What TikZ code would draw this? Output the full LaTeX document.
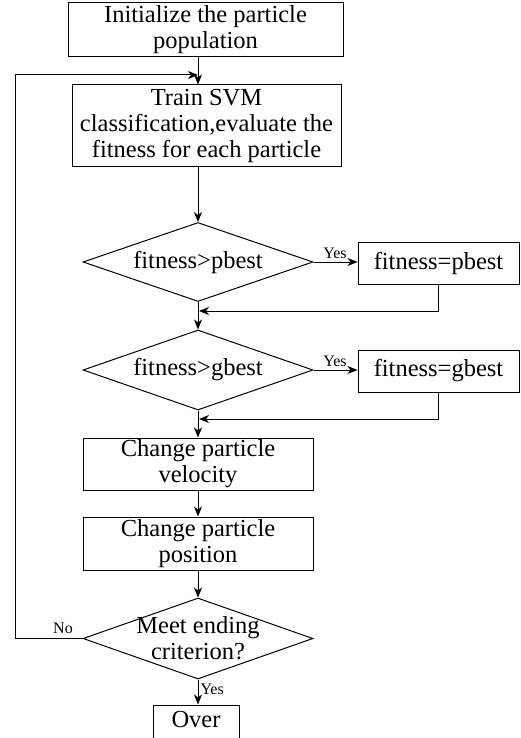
\documentclass[tikz,border=0pt]{standalone}
\usepackage{fontspec}
\setmainfont{Liberation Serif}
\usetikzlibrary{shapes.geometric,arrows.meta}
\begin{document}
\begin{tikzpicture}[x=1pt,y=-1pt,
  line width=1pt,
  box/.style={draw,rectangle,inner sep=0pt,align=center,font=\fontsize{24.5}{26}\selectfont},
  dia/.style={draw,diamond,inner sep=0pt,aspect=2.9},
  txt/.style={align=center,inner sep=0pt,font=\fontsize{24.5}{26}\selectfont},
  lbl/.style={inner sep=0pt,font=\fontsize{16}{18}\selectfont},
  arr/.style={-{Stealth[length=10pt,width=8pt,inset=3pt]}}]
\useasboundingbox (0,0) rectangle (520,738);
\clip (0,0) rectangle (520,738);
% boxes
\node[box,minimum width=275pt,minimum height=54pt] (init) at (205.5,30) {Initialize the particle\\population};
\node[box,minimum width=269pt,minimum height=82pt] (train) at (206.5,126) {Train SVM\\classification,evaluate the\\fitness for each particle};
\node[dia,minimum width=230pt,minimum height=79pt] (d1) at (198,262) {};
\node[txt] at (d1.center) {fitness>pbest};
\node[box,minimum width=161pt,minimum height=42pt] (pb) at (438.5,263) {fitness=pbest};
\node[dia,minimum width=230pt,minimum height=80pt] (d2) at (198,370) {};
\node[txt] at (d2.center) {fitness>gbest};
\node[box,minimum width=161pt,minimum height=42pt] (gb) at (438.5,371) {fitness=gbest};
\node[box,minimum width=230pt,minimum height=52pt] (vel) at (198,464) {Change particle\\velocity};
\node[box,minimum width=230pt,minimum height=53pt] (pos) at (198,543.5) {Change particle\\position};
\node[dia,minimum width=230pt,minimum height=81pt] (d3) at (198,638.5) {};
\node[txt] at (d3.center) {Meet ending\\criterion?};
\node[box,minimum width=86pt,minimum height=44pt,text height=15pt,text depth=15pt] (over) at (196,727) {Over};
% junctions
\coordinate (j1) at (198,75);
\coordinate (lp) at (15,75);
\coordinate (j2) at (199,311);
\coordinate (j3) at (199,419);
% connectors
\draw[arr] (init.south -| d1.north) -- (train.north -| d1.north);
\draw[arr] (train.south -| d1.north) -- (d1.north);
\draw[arr] (d1.east) -- (pb.west |- d1.east);
\draw[arr] (pb.south) |- (j2);
\draw[arr] (d1.south) -- (d2.north);
\draw[arr] (d2.east) -- (gb.west |- d2.east);
\draw[arr] (gb.south) |- (j3);
\draw[arr] (d2.south) -- (vel.north);
\draw[arr] (vel.south) -- (pos.north);
\draw[arr] (pos.south) -- (d3.north);
\draw[arr] (d3.south) -- (over.north -| d3.south);
\draw[arr] (d3.west) -| (lp) -- (j1);
% labels
\node[lbl,anchor=base] at (335,258) {Yes};
\node[lbl,anchor=base] at (335,366) {Yes};
\node[lbl,anchor=base] at (63,633) {No};
\node[lbl,anchor=base west] at (200,694) {Yes};
\end{tikzpicture}
\end{document}
